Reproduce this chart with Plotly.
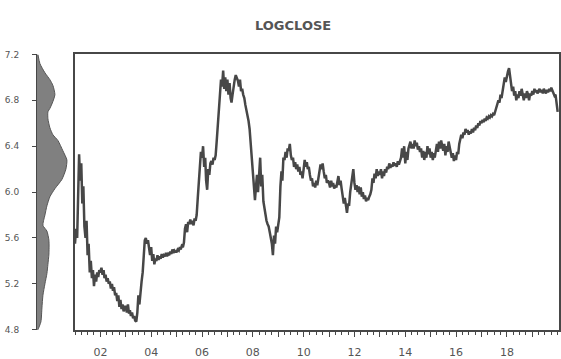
import pandas as pd
import plotly.graph_objects as go

# Semi-monthly log closing price (1st and 16th of each month), 2001 - Jan 2020
logclose_by_year = {
    2001: [5.55, 5.68, 5.60, 6.05, 6.33, 6.10, 6.25, 5.90, 6.05, 5.70, 5.60, 5.75,
           5.45, 5.55, 5.30, 5.40, 5.25, 5.32, 5.18, 5.28, 5.22, 5.30, 5.26, 5.32],
    2002: [5.30, 5.34, 5.28, 5.32, 5.25, 5.28, 5.22, 5.25, 5.20, 5.22, 5.16, 5.20,
           5.14, 5.17, 5.10, 5.12, 5.05, 5.10, 5.00, 5.06, 4.98, 5.02, 4.96, 5.00],
    2003: [5.00, 4.95, 5.02, 4.94, 4.97, 4.92, 4.95, 4.90, 4.92, 4.88, 4.87, 4.95,
           5.10, 5.02, 5.15, 5.22, 5.30, 5.48, 5.58, 5.60, 5.55, 5.58, 5.50, 5.45],
    2004: [5.52, 5.40, 5.46, 5.37, 5.42, 5.40, 5.45, 5.41, 5.44, 5.42, 5.46, 5.43,
           5.45, 5.44, 5.47, 5.44, 5.46, 5.45, 5.48, 5.46, 5.50, 5.47, 5.49, 5.48],
    2005: [5.48, 5.50, 5.49, 5.52, 5.50, 5.53, 5.52, 5.56, 5.68, 5.72, 5.65, 5.74,
           5.72, 5.76, 5.72, 5.75, 5.71, 5.77, 5.75, 5.80, 5.95, 6.10, 6.20, 6.35],
    2006: [6.30, 6.40, 6.22, 6.30, 6.10, 6.02, 6.20, 6.15, 6.25, 6.27, 6.24, 6.30,
           6.28, 6.32, 6.45, 6.60, 6.75, 6.85, 6.98, 6.92, 7.06, 6.90, 7.00, 6.88],
    2007: [6.98, 6.85, 6.95, 6.82, 6.78, 6.85, 6.95, 6.98, 7.02, 7.00, 6.97, 6.92,
           6.98, 6.88, 6.90, 6.85, 6.82, 6.76, 6.72, 6.68, 6.62, 6.55, 6.42, 6.28],
    2008: [6.15, 6.00, 5.93, 6.05, 6.15, 6.00, 6.20, 6.30, 6.05, 6.15, 5.92, 5.85,
           5.80, 5.75, 5.72, 5.70, 5.65, 5.60, 5.55, 5.45, 5.62, 5.55, 5.70, 5.65],
    2009: [5.70, 5.78, 6.05, 6.18, 6.10, 6.30, 6.28, 6.35, 6.30, 6.38, 6.36, 6.42,
           6.32, 6.28, 6.30, 6.22, 6.26, 6.20, 6.24, 6.18, 6.22, 6.15, 6.18, 6.12],
    2010: [6.20, 6.28, 6.22, 6.26, 6.20, 6.22, 6.15, 6.10, 6.12, 6.05, 6.08, 6.04,
           6.10, 6.06, 6.12, 6.18, 6.24, 6.20, 6.25, 6.18, 6.12, 6.15, 6.08, 6.10],
    2011: [6.08, 6.04, 6.10, 6.05, 6.08, 6.03, 6.06, 6.04, 6.10, 6.14, 6.06, 6.10,
           6.03, 5.98, 5.90, 5.95, 5.85, 5.82, 5.90, 5.88, 6.00, 6.08, 6.15, 6.20],
    2012: [6.08, 6.02, 6.06, 6.00, 6.05, 5.98, 6.04, 5.96, 6.00, 5.94, 5.97, 5.92,
           5.95, 5.93, 5.96, 5.98, 6.02, 6.12, 6.08, 6.16, 6.12, 6.20, 6.14, 6.18],
    2013: [6.15, 6.20, 6.12, 6.18, 6.14, 6.20, 6.17, 6.22, 6.20, 6.25, 6.21, 6.24,
           6.22, 6.26, 6.23, 6.25, 6.22, 6.27, 6.24, 6.28, 6.30, 6.38, 6.30, 6.40],
    2014: [6.25, 6.35, 6.28, 6.38, 6.40, 6.44, 6.38, 6.42, 6.38, 6.45, 6.40, 6.43,
           6.37, 6.40, 6.35, 6.38, 6.30, 6.36, 6.28, 6.35, 6.30, 6.40, 6.33, 6.38],
    2015: [6.30, 6.35, 6.28, 6.34, 6.30, 6.38, 6.42, 6.35, 6.44, 6.38, 6.45, 6.40,
           6.36, 6.42, 6.32, 6.40, 6.35, 6.44, 6.38, 6.33, 6.30, 6.34, 6.27, 6.32],
    2016: [6.28, 6.35, 6.33, 6.42, 6.45, 6.50, 6.47, 6.52, 6.50, 6.55, 6.52, 6.54,
           6.50, 6.53, 6.51, 6.55, 6.52, 6.56, 6.54, 6.58, 6.56, 6.60, 6.58, 6.62],
    2017: [6.60, 6.63, 6.61, 6.64, 6.62, 6.65, 6.64, 6.66, 6.65, 6.67, 6.66, 6.68,
           6.67, 6.70, 6.72, 6.75, 6.80, 6.78, 6.85, 6.82, 6.90, 6.95, 7.00, 6.96],
    2018: [7.02, 7.05, 7.08, 7.00, 6.95, 6.88, 6.92, 6.84, 6.88, 6.80, 6.85, 6.82,
           6.88, 6.84, 6.90, 6.85, 6.80, 6.86, 6.82, 6.88, 6.85, 6.80, 6.86, 6.84],
    2019: [6.88, 6.85, 6.90, 6.87, 6.89, 6.86, 6.88, 6.90, 6.87, 6.89, 6.86, 6.90,
           6.88, 6.86, 6.89, 6.87, 6.90, 6.88, 6.91, 6.89, 6.87, 6.84, 6.85, 6.78],
    2020: [6.70],
}

# Kernel density of LOGCLOSE (price level, density width)
density_levels = [4.78, 4.80, 4.87, 4.99, 5.10, 5.20, 5.29, 5.37, 5.46, 5.58,
                  5.66, 5.71, 5.80, 5.88, 5.96, 6.03, 6.11, 6.20, 6.28, 6.36,
                  6.45, 6.50, 6.56, 6.64, 6.70, 6.73, 6.79, 6.85, 6.93, 6.98,
                  7.04, 7.12, 7.20]
density_values = [0, 1, 4, 5, 6, 8, 10, 11, 12, 12,
                  10, 6, 8, 10, 13, 18, 25, 29, 30, 26,
                  21, 16, 13, 11, 11, 13, 16, 18, 16, 13,
                  8, 3, 1]

y_ticks = [4.8, 5.2, 5.6, 6.0, 6.4, 6.8, 7.2]
y_tick_text = ["4.8", "5.2", "5.6", "6.0", "6.4", "6.8", "7.2"]
x_tick_years = list(range(2002, 2020))
x_tick_text = ["%02d" % (y % 100) if y % 2 == 0 else "" for y in x_tick_years]

dates, values = [], []
for year, obs in logclose_by_year.items():
    for i, v in enumerate(obs):
        dates.append(pd.Timestamp(year=year, month=i // 2 + 1, day=1 + 15 * (i % 2)))
        values.append(v)

W, H = 561, 359
px = lambda p: p / W
py = lambda p: 1 - p / H

ink = "#474747"
label_col = "#555555"

fig = go.Figure()

fig.add_trace(go.Scatter(
    x=dates, y=values, mode="lines",
    line=dict(color=ink, width=2.5),
    xaxis="x", yaxis="y", hoverinfo="skip",
))

fig.add_trace(go.Scatter(
    x=density_values, y=density_levels, mode="lines",
    line=dict(color="#555555", width=1, shape="spline", smoothing=0.6),
    fill="tozerox", fillcolor="#808080",
    xaxis="x2", yaxis="y2", hoverinfo="skip",
))

fig.update_layout(
    width=W, height=H,
    margin=dict(l=0, r=0, t=0, b=0),
    paper_bgcolor="white", plot_bgcolor="white",
    showlegend=False,
    xaxis=dict(
        domain=[px(75), px(560)],
        type="date",
        range=[pd.Timestamp("2001-01-01") - pd.Timedelta(days=2), pd.Timestamp("2020-01-20")],
        tickvals=[pd.Timestamp(year=y, month=1, day=1) for y in x_tick_years],
        ticktext=x_tick_text,
        ticks="outside", ticklen=5, tickwidth=1.2, tickcolor=ink,
        minor=dict(dtick="M3", tick0="2001-01-01", ticks="outside", ticklen=3,
                   tickcolor=ink, tickwidth=1, showgrid=False),
        ticklabelstandoff=6,
        tickfont=dict(family="DejaVu Sans", size=11, color=label_col),
        showline=True, linecolor=ink, linewidth=2, mirror=True,
        showgrid=False, zeroline=False,
    ),
    yaxis=dict(
        domain=[py(335), py(51)],
        range=[4.8, 7.2],
        showticklabels=False, ticks="",
        showline=True, linecolor=ink, linewidth=2, mirror=True,
        showgrid=False, zeroline=False,
    ),
    xaxis2=dict(
        domain=[px(37), px(72)],
        range=[0, 35],
        anchor="y2",
        visible=False,
    ),
    yaxis2=dict(
        domain=[py(335), py(51)],
        range=[4.8, 7.2],
        anchor="x2",
        tickvals=y_ticks, ticktext=y_tick_text,
        ticks="outside", ticklen=4, tickcolor=ink, tickwidth=1,
        ticklabelstandoff=11,
        tickfont=dict(family="DejaVu Sans", size=9, color=label_col),
        showline=True, linecolor=ink, linewidth=1,
        showgrid=False, zeroline=False,
    ),
    annotations=[dict(
        text="LOGCLOSE", x=px(294), y=py(21), xref="paper", yref="paper",
        xanchor="center", yanchor="middle", showarrow=False,
        font=dict(family="DejaVu Sans", size=13, color="#555555", weight="bold"),
    )],
)

fig.write_html("out.html")
